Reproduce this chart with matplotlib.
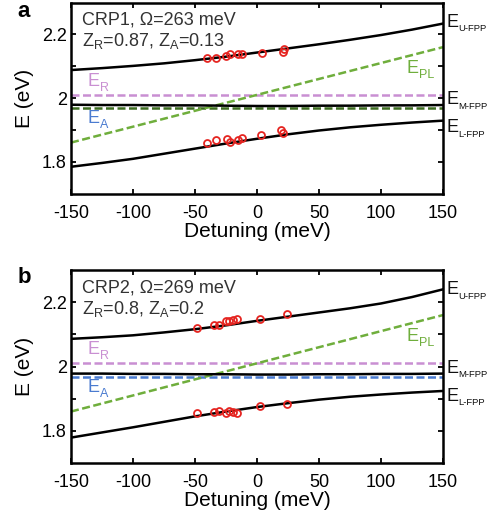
import matplotlib
matplotlib.use("Agg")
import matplotlib.pyplot as plt

plt.rcParams["font.family"] = ["Liberation Sans", "DejaVu Sans"]
plt.rcParams["mathtext.fontset"] = "custom"
plt.rcParams["mathtext.rm"] = "Liberation Sans"
plt.rcParams["axes.unicode_minus"] = False

# ── DATA ─────────────────────────────────────────────────────────────────────
det_grid = [-150, -125, -100, -75, -50, -25, 0, 25, 50, 75, 100, 125, 150]

# panel a: CRP1
a_upper = [2.088, 2.094, 2.101, 2.109, 2.119, 2.130, 2.143, 2.156, 2.169, 2.183, 2.198, 2.215, 2.234]
a_middle = [1.979, 1.978, 1.978, 1.977, 1.977, 1.976, 1.975, 1.975, 1.976, 1.976, 1.977, 1.977, 1.978]
a_lower = [1.784, 1.796, 1.809, 1.825, 1.841, 1.857, 1.872, 1.886, 1.898, 1.908, 1.916, 1.923, 1.929]
a_up_det = [-40, -33, -25, -22, -15, -12, 4, 21, 21.5]
a_up_E = [2.127, 2.127, 2.132, 2.138, 2.138, 2.138, 2.141, 2.145, 2.153]
a_lo_det = [-40, -33, -24, -22, -15, -12, 3, 19.5, 21]
a_lo_E = [1.859, 1.867, 1.870, 1.862, 1.867, 1.873, 1.885, 1.899, 1.890]

# panel b: CRP2
b_upper = [2.086, 2.091, 2.097, 2.106, 2.116, 2.128, 2.142, 2.155, 2.168, 2.181, 2.196, 2.216, 2.240]
b_middle = [1.978, 1.978, 1.977, 1.977, 1.976, 1.976, 1.975, 1.975, 1.976, 1.976, 1.977, 1.977, 1.978]
b_lower = [1.779, 1.795, 1.811, 1.828, 1.845, 1.860, 1.874, 1.886, 1.897, 1.906, 1.913, 1.919, 1.924]
b_up_det = [-48, -34.5, -31, -25, -22.5, -19.5, -16.5, 2.5, 24]
b_up_E = [2.119, 2.128, 2.128, 2.140, 2.142, 2.146, 2.149, 2.149, 2.163]
b_lo_det = [-48, -34.5, -31, -25, -22.5, -19.5, -16.5, 2.5, 24]
b_lo_E = [1.855, 1.859, 1.863, 1.855, 1.863, 1.858, 1.855, 1.878, 1.884]

pl_det = [-150, 150]
pl_E = [1.86, 2.16]
E_R = 2.01
a_E_A = 1.968
b_E_A = 1.968

titles = ["CRP1, \u03a9=263 meV", "CRP2, \u03a9=269 meV"]
z_texts = [r"Z$_\mathregular{R}$=0.87, Z$_\mathregular{A}$=0.13",
           r"Z$_\mathregular{R}$=0.8, Z$_\mathregular{A}$=0.2"]

# ── STYLE ────────────────────────────────────────────────────────────────────
C_R = "#c98fd2"
C_A = "#4a7bd0"
C_A_DARK = "#3f6e22"
C_PL = "#6fae3c"
C_DOT = "#e52420"
C_TXT = "#333333"
DASH = (0, (3.2, 1.4))


def elabel(ax, x, y, main, sub, color, transform, subsize=9):
    t = ax.text(x, y, main, transform=transform, color=color, fontsize=13,
                ha="left", va="baseline", clip_on=False)
    ax.annotate(sub, xy=(1.0, 0.0), xycoords=t, xytext=(0.2, -0.5),
                textcoords="offset points", fontsize=subsize, color=color,
                ha="left", va="baseline", annotation_clip=False)


def panel(ax, upper, middle, lower, up_det, up_E, lo_det, lo_E, ea, ea_color,
          title, ztext):
    ax.axhline(E_R, color=C_R, lw=1.8, ls=DASH)
    ax.axhline(ea, color=ea_color, lw=1.8, ls=DASH)
    ax.plot(pl_det, pl_E, color=C_PL, lw=1.8, ls=DASH)
    for curve in (upper, middle, lower):
        ax.plot(det_grid, curve, color="black", lw=1.8)
    ax.plot(up_det, up_E, "o", mfc="none", mec=C_DOT, ms=5, mew=1.3)
    ax.plot(lo_det, lo_E, "o", mfc="none", mec=C_DOT, ms=5, mew=1.3)

    ax.set_xlim(-150, 150)
    ax.set_ylim(1.7, 2.3)
    ax.set_xticks([-150, -100, -50, 0, 50, 100, 150])
    ax.set_yticks([1.8, 2.0, 2.2])
    ax.set_yticklabels(["1.8", "2", "2.2"])
    ax.set_yticks([1.9, 2.1], minor=True)
    ax.tick_params(which="both", direction="in", top=True, right=True,
                   length=3.5, width=1.3, labelsize=13, pad=3)
    ax.tick_params(axis="x", pad=8)
    for s in ax.spines.values():
        s.set_linewidth(1.8)
    ax.set_xlabel("Detuning (meV)", fontsize=15, labelpad=0)
    ax.set_ylabel("E (eV)", fontsize=15, labelpad=6)

    tr = ax.transAxes
    ax.text(0.029, 0.883, title, transform=tr, fontsize=13, color=C_TXT, va="baseline")
    ax.text(0.029, 0.770, ztext, transform=tr, fontsize=13, color=C_TXT, va="baseline")
    elabel(ax, 0.044, 0.563, "E", "R", C_R, tr)
    elabel(ax, 0.044, 0.367, "E", "A", C_A, tr)
    elabel(ax, 0.903, 0.630, "E", "PL", C_PL, tr)
    elabel(ax, 1.008, 0.874, "E", "U-FPP", "#111111", tr, subsize=6.8)
    elabel(ax, 1.008, 0.468, "E", "M-FPP", "#111111", tr, subsize=6.8)
    elabel(ax, 1.008, 0.323, "E", "L-FPP", "#111111", tr, subsize=6.8)


fig = plt.figure(figsize=(4.87, 5.16), dpi=100)
ax_a = fig.add_axes([0.1458, 0.625, 0.7639, 0.370])
ax_b = fig.add_axes([0.1458, 0.1027, 0.7639, 0.374])

panel(ax_a, a_upper, a_middle, a_lower, a_up_det, a_up_E, a_lo_det, a_lo_E,
      a_E_A, C_A_DARK, titles[0], z_texts[0])
panel(ax_b, b_upper, b_middle, b_lower, b_up_det, b_up_E, b_lo_det, b_lo_E,
      b_E_A, C_A, titles[1], z_texts[1])

fig.text(0.036, 0.999, "a", fontsize=16, fontweight="bold", va="top")
fig.text(0.036, 0.483, "b", fontsize=16, fontweight="bold", va="top")

fig.savefig("out.png", dpi=100)
